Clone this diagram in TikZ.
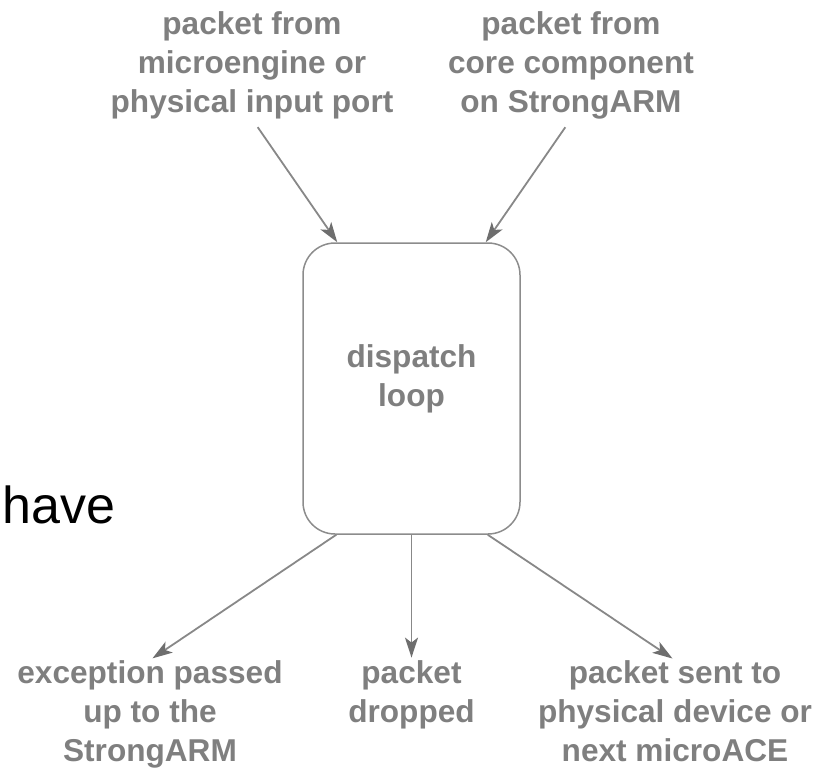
\documentclass[tikz,border=0pt]{standalone}
\usepackage{fontspec}
\setmainfont{Liberation Sans}
\usepackage{xcolor}
\usetikzlibrary{arrows.meta}
\definecolor{txtgray}{HTML}{7F7F7F}
\definecolor{linegray}{HTML}{888888}
\definecolor{headgray}{HTML}{6E6E6E}
\definecolor{boxgray}{HTML}{8C8C8C}
\begin{document}
\begin{tikzpicture}[x=1pt, y=-1pt,
        lbl/.style={align=center, text=txtgray, inner sep=0pt,
                    font=\bfseries\fontsize{31.6}{39}\selectfont},
        loopbox/.style={draw=boxgray, line width=1.5pt, rounded corners=32pt,
                        minimum width=217pt, minimum height=291pt, inner sep=0pt},
        arrow/.style={-{Stealth[length=20pt, width=13pt, inset=5pt, color=headgray]},
                      line width=1.8pt, draw=linegray}
    ]
        \useasboundingbox (0,0) rectangle (815,769);
        \node[loopbox] (loop) at (411.5,388.5) {};
        \node[lbl] (looptxt) at (411.5,379) {dispatch\\loop};
        \node[lbl] (inL) at (252,65) {packet from\\microengine or\\physical input port};
        \node[lbl] (inR) at (571,65) {packet from\\core component\\on StrongARM};
        \node[lbl] (outL) at (150,714) {exception passed\\up to the\\StrongARM};
        \node[lbl] (drop) at (411.5,695) {packet\\dropped};
        \node[lbl] (outR) at (675,711) {packet sent to\\physical device or\\next microACE};
        \node[anchor=base west, inner sep=0pt, font=\fontsize{52}{60}\selectfont] (have) at (2,523) {have};

        \draw[arrow, shorten <=10pt] (inL.south) -- ([xshift=35pt]loop.north west);
        \draw[arrow, shorten <=10pt] (inR.south) -- ([xshift=-35pt]loop.north east);
        \draw[arrow, shorten >=3pt] ([xshift=34pt]loop.south west) -- (outL.north);
        \draw[arrow, shorten >=3pt] (loop.south) -- (drop.north);
        \draw[arrow, shorten >=3pt] ([xshift=-33pt]loop.south east) -- (outR.north);
    \end{tikzpicture}
\end{document}
